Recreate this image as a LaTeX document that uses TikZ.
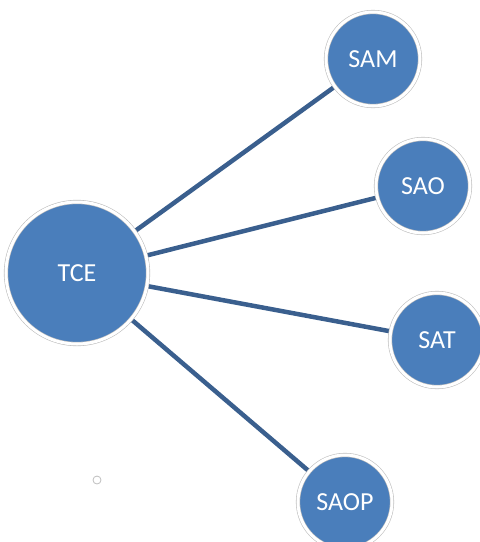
\documentclass[tikz,border=0pt]{standalone}
\usepackage{fontspec}
\setmainfont{Carlito}
\usetikzlibrary{backgrounds}
\definecolor{nodeblue}{RGB}{74,126,187}
\definecolor{linkblue}{RGB}{58,95,142}
\definecolor{rimgray}{RGB}{190,190,190}
\tikzset{
  bubble/.style={circle, fill=nodeblue, draw=rimgray, line width=0.6pt, double=white, double distance=3pt, inner sep=0pt, text=white, font=\fontsize{26}{30}\selectfont},
  hub/.style={bubble, minimum size=142pt},
  sat/.style={bubble, minimum size=94pt},
  link/.style={draw=linkblue, line width=4.5pt}
}
\begin{document}
\begin{tikzpicture}[x=1pt,y=-1pt]
\useasboundingbox (0,0) rectangle (480,542);
\node[hub] (tce) at (77,273) {TCE};
\node[sat] (sam) at (373,59) {SAM};
\node[sat] (sao) at (423,186) {SAO};
\node[sat] (sat) at (437,340) {SAT};
\node[sat] (saop) at (345,502) {SAOP};
\node[circle, draw=rimgray, line width=0.8pt, minimum size=8pt, inner sep=0pt] (dot) at (97,480) {};
\begin{scope}[on background layer]
\draw[link] (tce) -- (sam);
\draw[link] (tce) -- (sao);
\draw[link] (tce) -- (sat);
\draw[link] (tce) -- (saop);
\end{scope}
\end{tikzpicture}
\end{document}
